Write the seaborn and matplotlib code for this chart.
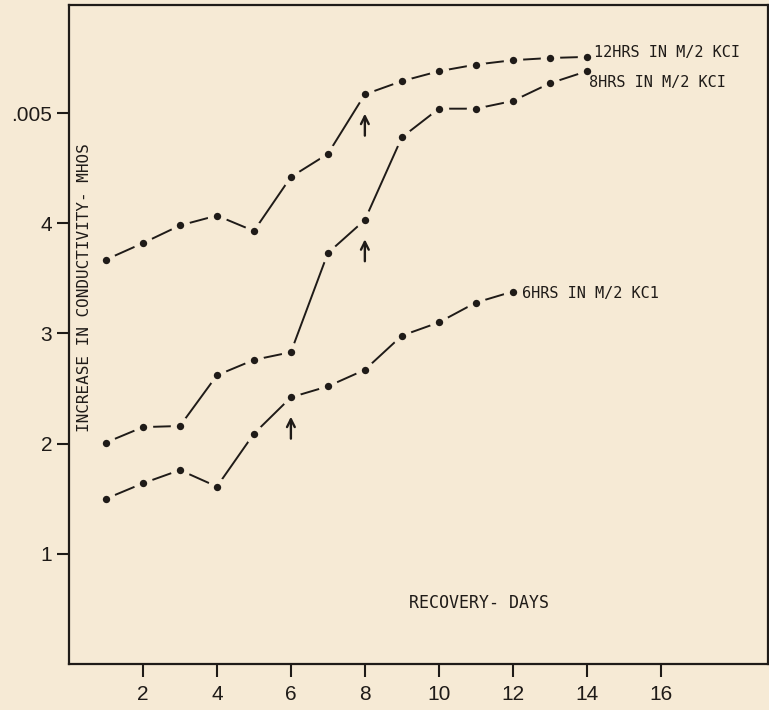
import pandas as pd
import matplotlib
matplotlib.use("Agg")
import matplotlib.pyplot as plt
import seaborn as sns

# data (conductivity in units of 0.001 mhos)
days = [1, 2, 3, 4, 5, 6, 7, 8, 9, 10, 11, 12, 13, 14]
hrs12 = [3.67, 3.82, 3.98, 4.07, 3.93, 4.42, 4.63, 5.17, 5.29, 5.38, 5.44, 5.48, 5.50, 5.51]
hrs8 = [2.01, 2.15, 2.16, 2.62, 2.76, 2.83, 3.73, 4.03, 4.78, 5.04, 5.04, 5.11, 5.27, 5.38]
days6 = [1, 2, 3, 4, 5, 6, 7, 8, 9, 10, 11, 12]
hrs6 = [1.50, 1.64, 1.76, 1.61, 2.09, 2.42, 2.52, 2.67, 2.98, 3.10, 3.28, 3.38]

series_labels = ["12HRS IN M/2 KCI", "8HRS IN M/2 KCI", "6HRS IN M/2 KC1"]
xticks = [2, 4, 6, 8, 10, 12, 14, 16]
yticks = [1, 2, 3, 4, 5]
ytick_labels = ["1", "2", "3", "4", ".005"]
arrow_days = [8, 8, 6]  # arrows below these points
arrow_series = [hrs12, hrs8, hrs6]

BG = "#f6ead5"
INK = "#1f1b18"

sns.set_theme(style="white")
plt.rcParams["font.family"] = ["Liberation Sans", "DejaVu Sans"]

fig = plt.figure(figsize=(7.69, 7.10), dpi=100, facecolor=BG)
ax = fig.add_axes([0.0897, 0.0648, 0.909, 0.928])
ax.set_facecolor(BG)

frames = [
    pd.DataFrame({"day": days, "val": hrs12}),
    pd.DataFrame({"day": days, "val": hrs8}),
    pd.DataFrame({"day": days6, "val": hrs6}),
]

for df in frames:
    # line with background-coloured halo markers to leave gaps around dots
    sns.lineplot(data=df, x="day", y="val", ax=ax, color=INK, linewidth=1.4,
                 marker="o", markersize=14, markerfacecolor=BG,
                 markeredgecolor=BG, markeredgewidth=0)
    sns.scatterplot(data=df, x="day", y="val", ax=ax, color=INK, s=28,
                    linewidth=0, zorder=5)

# arrows under the marked points
for d, ser, dd in zip(arrow_days, arrow_series, [days, days, days6]):
    v = ser[dd.index(d)]
    ax.annotate("", xy=(d, v - 0.15), xytext=(d, v - 0.40),
                arrowprops=dict(arrowstyle="->", color=INK, lw=1.7,
                                mutation_scale=14))

lab_font = dict(family="DejaVu Sans Mono", fontsize=11, color=INK)
ax.text(14.2, 5.55, series_labels[0], ha="left", va="center", **lab_font)
ax.text(14.05, 5.28, series_labels[1], ha="left", va="center", **lab_font)
ax.text(12.25, 3.36, series_labels[2], ha="left", va="center", **lab_font)

ax.text(0.43, 3.42, "INCREASE IN CONDUCTIVITY- MHOS", rotation=90,
        ha="center", va="center", family="DejaVu Sans Mono", fontsize=11.5,
        color=INK)
ax.text(9.2, 0.55, "RECOVERY- DAYS", ha="left", va="center",
        family="DejaVu Sans Mono", fontsize=12, color=INK)

ax.set_xlim(0, 18.9)
ax.set_ylim(0, 5.98)
ax.set_xticks(xticks)
ax.set_yticks(yticks)
ax.set_yticklabels(ytick_labels)
ax.set_xlabel("")
ax.set_ylabel("")
ax.tick_params(axis="both", direction="out", length=9, width=1.5,
               colors=INK, labelsize=15, left=True, bottom=True)
ax.tick_params(axis="x", pad=6)
ax.tick_params(axis="y", pad=3)
for s in ax.spines.values():
    s.set_color(INK)
    s.set_linewidth(1.6)

fig.savefig("out.png", dpi=100, facecolor=BG)
